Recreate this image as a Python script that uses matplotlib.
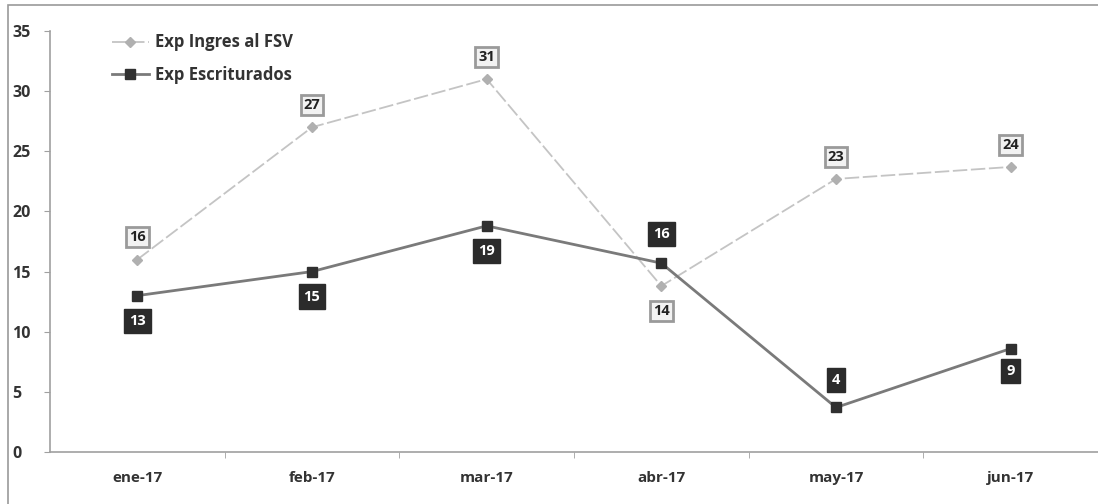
import matplotlib
matplotlib.use("Agg")
import matplotlib.pyplot as plt
from matplotlib.patches import Rectangle

categories = ["ene-17", "feb-17", "mar-17", "abr-17", "may-17", "jun-17"]
ingres = [16, 27, 31, 13.8, 22.7, 23.7]
escrit = [13, 15, 18.8, 15.7, 3.7, 8.6]
yticks = [0, 5, 10, 15, 20, 25, 30, 35]

W, H = 1098, 504
fig = plt.figure(figsize=(W / 100, H / 100), dpi=100)
plt.rcParams['font.family'] = ['Open Sans', 'DejaVu Sans']

# outer chart border
fig.patches.append(Rectangle((8 / W, -0.1), 1.2, 1 - 5 / H + 0.1, transform=fig.transFigure,
                             fill=False, edgecolor="#9a9a9a", linewidth=1.2))

ax = fig.add_axes([50 / W, 52 / H, (W - 50) / W, 421 / H])
x = list(range(len(categories)))
ax.set_xlim(-0.5, -0.5 + (W - 50) / 176.5)
ax.set_ylim(0, 35)

ax.plot(x, ingres, color="#c4c4c4", linestyle=(0, (8, 2)), linewidth=1.3,
        marker="D", markersize=5, markerfacecolor="#b0b0b0", markeredgecolor="#b0b0b0",
        label="Exp Ingres al FSV", zorder=3)
ax.plot(x, escrit, color="#7a7a7a", linewidth=2,
        marker="s", markersize=7, markerfacecolor="#303030", markeredgecolor="#303030",
        label="Exp Escriturados", zorder=4)

ing_off = [16, 16, 16, -18, 16, 16]
esc_off = [-18, -18, -18, 21, 20, -16]
for xi, v, o in zip(x, ingres, ing_off):
    ax.annotate(f"{v:.0f}", (xi, v), xytext=(0, o), textcoords="offset points",
                ha="center", va="center", fontsize=10.5, fontweight="bold", color="#222222",
                bbox=dict(boxstyle="square,pad=0.2", facecolor="#f2f2f2", edgecolor="#9a9a9a", linewidth=2),
                zorder=5)
for xi, v, o in zip(x, escrit, esc_off):
    ax.annotate(f"{v:.0f}", (xi, v), xytext=(0, o), textcoords="offset points",
                ha="center", va="center", fontsize=10.5, fontweight="bold", color="white",
                bbox=dict(boxstyle="square,pad=0.35", facecolor="#2b2b2b", edgecolor="#2b2b2b"),
                zorder=5)

for s in ["top", "right"]:
    ax.spines[s].set_visible(False)
for s in ["left", "bottom"]:
    ax.spines[s].set_color("#a0a0a0")
    ax.spines[s].set_linewidth(1.2)

ax.set_yticks(yticks)
ax.set_yticklabels([str(t) for t in yticks], fontsize=11.5, fontweight="bold", color="#333333")
ax.tick_params(axis="y", length=4, color="#a0a0a0", pad=23)
for lab in ax.get_yticklabels():
    lab.set_horizontalalignment("left")

ax.set_xticks(x)
ax.set_xticklabels(categories, fontsize=11, fontweight="bold", color="#333333")
ax.tick_params(axis="x", length=0, pad=14)
ax.set_xticks([i + 0.5 for i in range(len(categories))], minor=True)
ax.tick_params(axis="x", which="minor", length=4, color="#a0a0a0")

leg = ax.legend(loc="upper left", bbox_to_anchor=(0.045, 1.03), frameon=False,
                prop={"weight": "bold", "size": 12}, handlelength=2.2,
                handletextpad=0.4, labelspacing=0.85)
for t in leg.get_texts():
    t.set_color("#333333")

fig.savefig("out.png", dpi=100)
